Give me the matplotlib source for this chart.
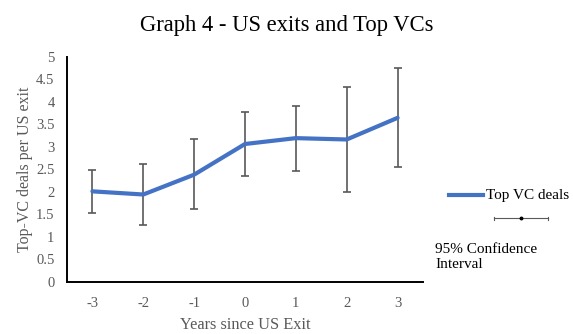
import numpy as np
import matplotlib
matplotlib.use("Agg")
import matplotlib.pyplot as plt
from matplotlib.lines import Line2D

# data
years = [-3, -2, -1, 0, 1, 2, 3]
top_vc_deals = [2.01, 1.94, 2.38, 3.06, 3.19, 3.16, 3.64]
ci_low = [1.52, 1.27, 1.61, 2.36, 2.47, 2.00, 2.54]
ci_high = [2.49, 2.61, 3.16, 3.77, 3.91, 4.32, 4.74]

plt.rcParams['font.family'] = ['Liberation Serif', 'DejaVu Serif']

blue = '#4472C4'
grey = '#595959'

W, H = 573, 334
fig = plt.figure(figsize=(W / 100, H / 100), dpi=100)
ax = fig.add_axes([67 / W, 1 - 282 / H, (423 - 67) / W, (282 - 56.5) / H])

y = np.array(top_vc_deals)
err = [y - np.array(ci_low), np.array(ci_high) - y]
ax.errorbar(years, y, yerr=err, fmt='none', ecolor=grey, elinewidth=1.2,
            capsize=3, capthick=1.2, zorder=2)
ax.plot(years, y, color=blue, lw=3.0, solid_capstyle='round', zorder=3)

ax.set_xlim(-3.5, 3.5)
ax.set_ylim(0, 5)
ax.set_xticks(years)
ax.set_xticklabels([str(v) for v in years])
ax.set_yticks(np.arange(0, 5.01, 0.5))
ax.set_yticklabels(['0', '0.5', '1', '1.5', '2', '2.5', '3', '3.5', '4', '4.5', '5'])
ax.tick_params(length=0, labelsize=10.5, colors=grey)
ax.tick_params(axis='x', pad=11)
ax.tick_params(axis='y', pad=9)
for s in ['top', 'right']:
    ax.spines[s].set_visible(False)
for s in ['left', 'bottom']:
    ax.spines[s].set_linewidth(1.4)
    ax.spines[s].set_color('black')

ax.set_xlabel('Years since US Exit', fontsize=11.8, color=grey, labelpad=5)
ax.set_ylabel('Top-VC deals per US exit', fontsize=11.5, color=grey, labelpad=2.5)

fig.text(287 / W, 1 - 25 / H, 'Graph 4 - US exits and Top VCs', fontsize=16.3,
         ha='center', va='center', color='black')

# legend, drawn by hand
def fx(px):
    return px / W

def fy(py):
    return 1 - py / H

fig.add_artist(Line2D([fx(449), fx(483)], [fy(195), fy(195)], color=blue, lw=3.0,
                      transform=fig.transFigure))
fig.text(fx(486), fy(195), 'Top VC deals', fontsize=11, va='center', ha='left', color='black')
fig.add_artist(Line2D([fx(494), fx(548)], [fy(218), fy(218)], color=grey, lw=0.8,
                      transform=fig.transFigure))
for px in (494, 548):
    fig.add_artist(Line2D([fx(px), fx(px)], [fy(216.5), fy(219.5)], color=grey, lw=0.8,
                          transform=fig.transFigure))
fig.add_artist(Line2D([fx(521)], [fy(218)], color='black', marker='o', markersize=1.8,
                      transform=fig.transFigure))
fig.text(fx(435), fy(257), '95% Confidence\nInterval', fontsize=11, va='center', ha='left',
         color='black', linespacing=1.2)

fig.savefig('out.png', dpi=100)
